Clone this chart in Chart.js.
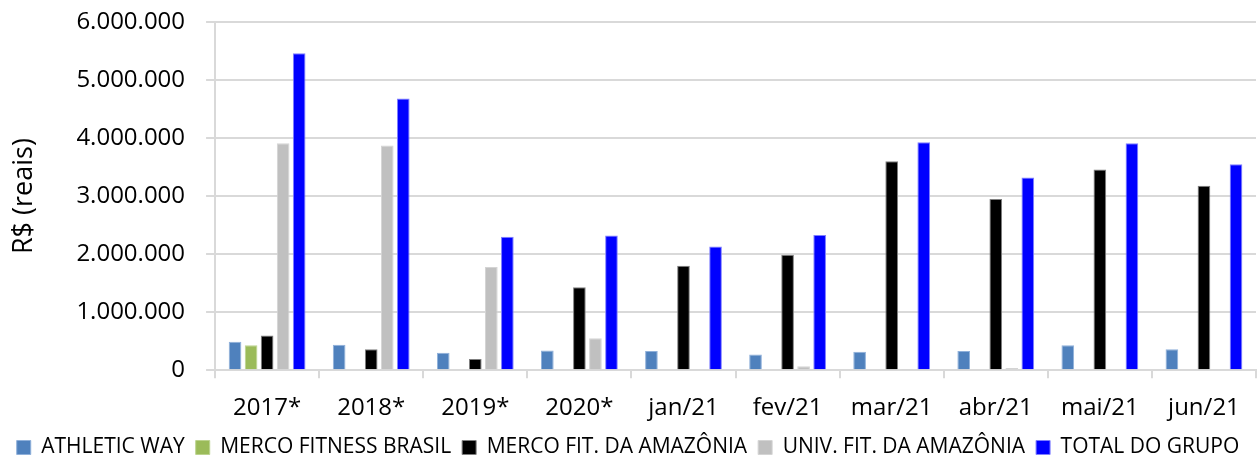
<!DOCTYPE html>
<html>
<head>
<meta charset="utf-8">
<script src="https://cdn.jsdelivr.net/npm/chart.js@4.4.1/dist/chart.umd.min.js"></script>
<style>
  html, body { margin: 0; padding: 0; background: #fff; }
  #wrap { width: 1258px; height: 455px; }
</style>
</head>
<body>
<div id="wrap"><canvas id="grafico"></canvas></div>
<script>
const categorias = ['2017*', '2018*', '2019*', '2020*', 'jan/21', 'fev/21', 'mar/21', 'abr/21', 'mai/21', 'jun/21'];

const athleticWay = [490000, 440000, 300000, 340000, 330000, 270000, 320000, 330000, 430000, 360000];
const mercoFitnessBrasil = [430000, null, null, null, null, null, null, null, null, null];
const mercoFitAmazonia = [600000, 360000, 195000, 1430000, 1800000, 1990000, 3600000, 2950000, 3460000, 3180000];
const univFitAmazonia = [3910000, 3870000, 1780000, 550000, null, 70000, 20000, 40000, null, null];
const totalGrupo = [5460000, 4680000, 2300000, 2320000, 2130000, 2330000, 3930000, 3320000, 3910000, 3550000];

const yTicks = [0, 1000000, 2000000, 3000000, 4000000, 5000000, 6000000];

function formatBR(v) {
  return String(v).replace(/\B(?=(\d{3})+(?!\d))/g, '.');
}

const fonte = "'Open Sans', 'Noto Sans', sans-serif";

const ctx = document.getElementById('grafico');

function serie(label, data, cor, borda) {
  return {
    label: label,
    data: data,
    backgroundColor: cor,
    borderColor: borda,
    borderWidth: 1,
    categoryPercentage: 0.77,
    barPercentage: 0.79
  };
}

// legenda um pouco mais baixa: tira parte do espaço vazio abaixo dela
const legendaAjuste = {
  id: 'legendaAjuste',
  beforeLayout(chart) {
    const lg = chart.legend;
    if (lg && !lg.__ajustado) {
      const fitOrig = lg.fit;
      lg.fit = function () {
        fitOrig.call(this);
        this.height -= 13;
      };
      lg.__ajustado = true;
    }
  }
};

let grafico = new Chart(ctx, {
  type: 'bar',
  data: {
    labels: categorias,
    datasets: [
      serie('ATHLETIC WAY', athleticWay, '#4F81BD', '#8FB0DA'),
      serie('MERCO FITNESS BRASIL', mercoFitnessBrasil, '#9BBB59', '#BCD38E'),
      serie('MERCO FIT. DA AMAZÔNIA', mercoFitAmazonia, '#000000', '#7F7F7F'),
      serie('UNIV. FIT. DA AMAZÔNIA', univFitAmazonia, '#C0C0C0', '#D4D4D4'),
      serie('TOTAL DO GRUPO', totalGrupo, '#0000FF', '#7F7FFF')
    ]
  },
  plugins: [legendaAjuste],
  options: {
    responsive: true,
    maintainAspectRatio: false,
    animation: false,
    layout: { padding: { top: 0, right: 2, left: 0, bottom: 0 } },
    plugins: {
      tooltip: { enabled: false },
      legend: {
        position: 'bottom',
        labels: {
          font: { family: fonte, size: 21 },
          color: '#000',
          boxWidth: 14,
          boxHeight: 14,
          padding: 11
        }
      }
    },
    scales: {
      x: {
        grid: {
          offset: true,
          drawOnChartArea: false,
          color: '#D9D9D9',
          lineWidth: 2,
          tickLength: 8
        },
        border: { color: '#D9D9D9', width: 2 },
        ticks: {
          font: { family: fonte, size: 24 },
          color: '#000',
          padding: 16
        },
        afterFit: (scale) => { scale.height -= 13; }
      },
      y: {
        min: 0,
        max: 6000000,
        afterBuildTicks: (axis) => { axis.ticks = yTicks.map(v => ({ value: v })); },
        afterFit: (scale) => { scale.paddingTop = 22; },
        grid: { color: '#D9D9D9', lineWidth: 2, tickLength: 9 },
        border: { color: '#D9D9D9', width: 2 },
        ticks: {
          font: { family: fonte, size: 24 },
          color: '#000',
          padding: 21,
          callback: (v) => formatBR(v)
        },
        title: {
          display: true,
          text: 'R$ (reais)',
          font: { family: fonte, size: 27 },
          color: '#000',
          padding: { top: 8, bottom: 15 }
        }
      }
    }
  }
});
</script>
</body>
</html>
